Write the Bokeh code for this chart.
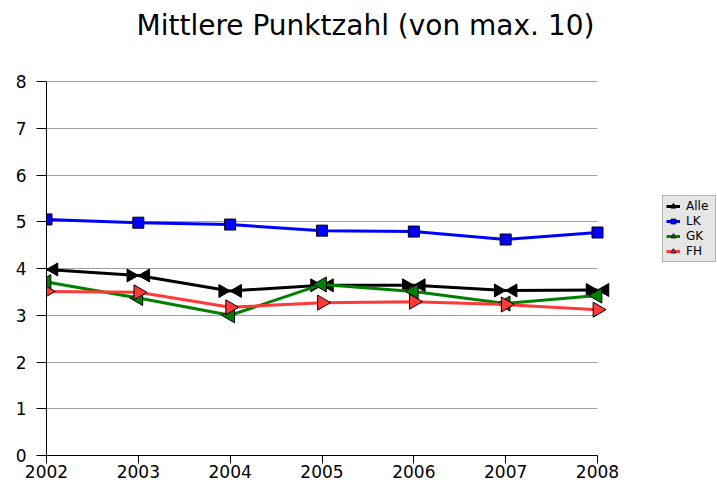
from bokeh.plotting import figure
from bokeh.models import (Legend, LegendItem, Range1d, FixedTicker, ColumnDataSource, Label,
                          BoxAnnotation)
from bokeh.embed import file_html
from bokeh.resources import INLINE
import math

years = [2002, 2003, 2004, 2005, 2006, 2007, 2008]
alle = [3.98, 3.85, 3.52, 3.64, 3.64, 3.53, 3.54]
lk = [5.05, 4.98, 4.94, 4.81, 4.79, 4.62, 4.77]
gk = [3.71, 3.37, 3.00, 3.66, 3.51, 3.25, 3.42]
fh = [3.51, 3.49, 3.17, 3.27, 3.29, 3.23, 3.12]
series_names = ["Alle", "LK", "GK", "FH"]
y_ticks = [0, 1, 2, 3, 4, 5, 6, 7, 8]
title_text = "Mittlere Punktzahl (von max. 10)"

W, H = 717, 486
ML, MB = 46, 31
DATA_PX_X = 551                     # pixel width of the data area (2002..2008)
DATA_PX_Y = 374                     # pixel height of the data area (0..8)
RIGHT_PX = W - ML - DATA_PX_X       # room right of 2008 (holds the legend)
TOP_PX = H - MB - DATA_PX_Y         # room above 8 (holds the title)
px_per_year = DATA_PX_X / (years[-1] - years[0])
px_per_unit = DATA_PX_Y / (y_ticks[-1] - y_ticks[0])
x_end = years[-1] + RIGHT_PX / px_per_year
y_end = y_ticks[-1] + TOP_PX / px_per_unit

p = figure(width=W, height=H, output_backend="svg", toolbar_location=None,
           x_range=Range1d(years[0], x_end), y_range=Range1d(y_ticks[0], y_end),
           min_border_left=ML, min_border_right=0, min_border_top=0, min_border_bottom=MB)
p.outline_line_color = None
p.background_fill_color = "white"
p.border_fill_color = "white"

p.xaxis.ticker = FixedTicker(ticks=years)
p.yaxis.ticker = FixedTicker(ticks=y_ticks)
p.xaxis.bounds = (years[0], years[-1])
p.yaxis.bounds = (y_ticks[0], y_ticks[-1])
for ax in (p.xaxis, p.yaxis):
    ax.major_label_text_font = "DejaVu Sans"
    ax.major_label_text_font_size = "17px"
    ax.major_label_text_color = "black"
    ax.axis_line_color = "black"
    ax.axis_line_width = 1
    ax.major_tick_line_color = "black"
    ax.major_tick_in = 0
    ax.minor_tick_line_color = None
p.xaxis.major_tick_out = 8
p.xaxis.major_label_standoff = 1
p.yaxis.major_tick_out = 10
p.yaxis.major_label_standoff = 10

p.xgrid.grid_line_color = None
p.ygrid.grid_line_color = "#a0a0a0"
p.ygrid.grid_line_width = 1
# keep the horizontal grid lines within the data years
p.add_layout(BoxAnnotation(left=years[-1], fill_color="white", fill_alpha=1,
                           line_color=None, level="underlay"))

title = Label(x=319, y=430, x_units="screen", y_units="screen", text=title_text,
              text_font="DejaVu Sans", text_font_size="28px", text_color="black",
              text_align="center", text_baseline="alphabetic")
p.add_layout(title)

lw = 3
# Alle: line + bowtie (two triangles pointing inward)
tri_size = 13
dx = (2.0 / 3.0) * (tri_size / 2.0) * math.sqrt(3) / px_per_year
src_alle = ColumnDataSource(dict(x=years, y=alle,
                                 xl=[v - dx for v in years], xr=[v + dx for v in years]))
l_alle = p.line("x", "y", source=src_alle, line_color="black", line_width=lw)
t1 = p.scatter("xl", "y", source=src_alle, marker="triangle", size=tri_size, angle=-math.pi / 2,
               fill_color="black", line_color="black")
t2 = p.scatter("xr", "y", source=src_alle, marker="triangle", size=tri_size, angle=math.pi / 2,
               fill_color="black", line_color="black")

l_lk = p.line(years, lk, line_color="#0000ff", line_width=lw)
m_lk = p.scatter(years, lk, marker="square", size=11, fill_color="#0000ff", line_color="black")

l_gk = p.line(years, gk, line_color="#008000", line_width=lw)
m_gk = p.scatter(years, gk, marker="triangle", size=15, angle=math.pi / 2,
                 fill_color="#008000", line_color="black")

l_fh = p.line(years, fh, line_color="#ff3838", line_width=lw)
m_fh = p.scatter(years, fh, marker="triangle", size=15, angle=-math.pi / 2,
                 fill_color="#ff3838", line_color="black")

legend = Legend(items=[
    LegendItem(label=series_names[0], renderers=[l_alle, t1, t2]),
    LegendItem(label=series_names[1], renderers=[l_lk, m_lk]),
    LegendItem(label=series_names[2], renderers=[l_gk, m_gk]),
    LegendItem(label=series_names[3], renderers=[l_fh, m_fh]),
])
legend.location = (616, 193)
legend.orientation = "vertical"
legend.background_fill_color = "#e6e6e6"
legend.background_fill_alpha = 1
legend.border_line_color = "#808080"
legend.border_line_width = 1
legend.label_text_font = "DejaVu Sans"
legend.label_text_font_size = "12px"
legend.label_text_color = "black"
legend.glyph_width = 14
legend.glyph_height = 12
legend.label_height = 14
legend.label_width = 26
legend.label_standoff = 6
legend.spacing = 1
legend.padding = 3
legend.margin = 0
p.add_layout(legend, "center")

open("out.html", "w").write(file_html(p, INLINE))
